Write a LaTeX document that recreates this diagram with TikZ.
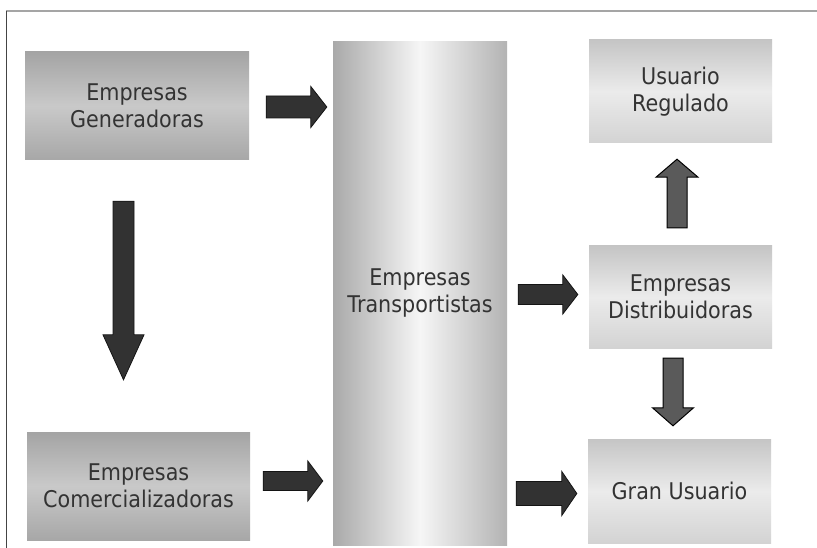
\documentclass[tikz,border=0pt]{standalone}
\usepackage{fontspec}
\setmainfont{DejaVu Sans}[FakeStretch=0.9]
\usetikzlibrary{calc}
\definecolor{txt}{HTML}{333333}
\definecolor{dkA}{HTML}{A4A4A4}
\definecolor{dkB}{HTML}{C9C9C9}
\definecolor{dkC}{HTML}{A7A7A7}
\definecolor{ltA}{HTML}{C5C5C5}
\definecolor{ltB}{HTML}{EBEBEB}
\definecolor{ltC}{HTML}{D3D3D3}
\definecolor{trA}{HTML}{A9A9A9}
\definecolor{trB}{HTML}{F6F6F6}
\definecolor{trC}{HTML}{B3B3B3}
\definecolor{arrdark}{HTML}{323232}
\definecolor{arrline}{HTML}{141414}
\definecolor{arrgray}{HTML}{5A5A5A}
\definecolor{frametop}{HTML}{A5A5A5}
\definecolor{frameleft}{HTML}{444444}
\tikzset{
  barw/.store in=\abw, headw/.store in=\ahw, headl/.store in=\ahl,
  barw=10pt, headw=20pt, headl=16pt,
  blockarrow/.style={line join=miter, to path={
    let \p1=(\tikztostart), \p2=(\tikztotarget), \p3=($(\p2)!\ahl!(\p1)$) in
    ($(\p1)!\abw!90:(\p2)$) -- ($(\p3)!\abw!-90:(\p1)$) -- ($(\p3)!\ahw!-90:(\p1)$)
    -- (\p2) -- ($(\p3)!\ahw!90:(\p1)$) -- ($(\p3)!\abw!90:(\p1)$)
    -- ($(\p1)!\abw!-90:(\p2)$) -- cycle}},
  dkarrow/.style={blockarrow, fill=arrdark, draw=arrline, line width=0.8pt},
  grarrow/.style={blockarrow, fill=arrgray, draw=black, line width=1pt},
  box/.style={inner sep=0pt, align=center, text=txt,
    font=\fontsize{23}{27}\selectfont},
  darkbox/.style={box, top color=dkA, bottom color=dkC, middle color=dkB},
  lightbox/.style={box, top color=ltA, bottom color=ltC, middle color=ltB},
  tallbox/.style={box, left color=trA, right color=trC, middle color=trB}
}
\begin{document}
\begin{tikzpicture}[x=1pt,y=-1pt]
\useasboundingbox (0,0) rectangle (817,548);
\fill[white] (0,0) rectangle (817,548);
\draw[frametop, line width=1.8pt] (6,11) -- (817,11);
\draw[frameleft, line width=0.9pt] (6,11) -- (6,548);

\node[darkbox, minimum width=224pt, minimum height=108pt] (gen) at (137,106) {Empresas\\Generadoras};
\node[darkbox, minimum width=223pt, minimum height=108pt] (com) at (138.5,486) {Empresas\\Comercializadoras};
\node[tallbox, minimum width=174pt, minimum height=503pt] (trans) at (420,293.5) {Empresas\\Transportistas};
\node[lightbox, minimum width=183pt, minimum height=103pt] (reg) at (680.5,91.5) {Usuario\\Regulado};
\node[lightbox, minimum width=183pt, minimum height=102pt] (dist) at (680.5,297) {Empresas\\Distribuidoras};
\node[lightbox, minimum width=183pt, minimum height=104pt] (gran) at (679.5,491) {Gran Usuario};

\path[dkarrow, barw=11pt, headw=20.5pt, headl=16pt]
  ($(gen.east)+(17,1)$) to ($(gen.east -| trans.west)+(-6,1)$);
\path[dkarrow, barw=9.5pt, headw=20pt, headl=15pt]
  ($(com.east)+(13,-5)$) to ($(com.east -| trans.west)+(-10,-5)$);
\path[dkarrow, barw=10pt, headw=19.5pt, headl=15pt]
  ($(dist.west -| trans.east)+(11,-2.5)$) to ($(dist.west)+(-11,-2.5)$);
\path[dkarrow, barw=12pt, headw=22pt, headl=15pt]
  ($(gran.west -| trans.east)+(9,2.5)$) to ($(gran.west)+(-11,2.5)$);
\path[dkarrow, barw=10.5pt, headw=20.5pt, headl=45pt]
  ($(gen.south)+(-13.5,41)$) to ($(gen.south |- com.north)+(-13.5,-52)$);
\path[grarrow, barw=10pt, headw=21pt, headl=18pt]
  ($(dist.north)+(-3.5,-18)$) to ($(dist.north |- reg.south)+(-3.5,16)$);
\path[grarrow, barw=10pt, headw=20.5pt, headl=18pt]
  ($(dist.south)+(-7.5,10)$) to ($(dist.south |- gran.north)+(-7.5,-13)$);
\end{tikzpicture}
\end{document}
